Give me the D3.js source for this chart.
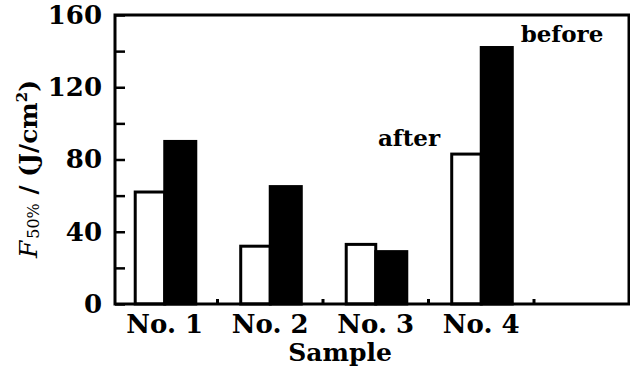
<!DOCTYPE html>
<html>
<head>
<meta charset="utf-8">
<script src="https://cdn.jsdelivr.net/npm/d3@7"></script>
<style>
  body { margin: 0; background: #fff; }
  text { font-family: "DejaVu Serif", serif; font-weight: bold; fill: #000; }
</style>
</head>
<body>
<svg width="630" height="372"></svg>
<script>
// data
var samples = ["No. 1", "No. 2", "No. 3", "No. 4"];
var series = ["after", "before"];
var afterValues = [62, 32, 33, 83];
var beforeValues = [90, 65, 29, 142];
var yTicks = [0, 20, 40, 60, 80, 100, 120, 140, 160];

var svg = d3.select("svg");

// plot frame edges (not "top": that name is taken by window.top)
var pLeft = 115, pRight = 629, pTop = 15, pBottom = 304;

var y = d3.scaleLinear().domain([0, 160]).range([pBottom, pTop]);

// outer band per sample, inner band per series
var x0 = d3.scaleBand().domain(samples).range([112, 534]);
var x1 = d3.scaleBand().domain(series).range([0, x0.bandwidth()]).paddingOuter(0.7);

var rows = samples.map(function(s, i) {
  return { sample: s, values: [
    { key: "after", value: afterValues[i] },
    { key: "before", value: beforeValues[i] }
  ]};
});

// bars
var g = svg.append("g");
g.selectAll("g.grp")
  .data(rows)
  .enter().append("g")
    .attr("class", "grp")
    .attr("transform", function(d) { return "translate(" + x0(d.sample) + ",0)"; })
  .selectAll("rect")
  .data(function(d) { return d.values; })
  .enter().append("rect")
    .attr("x", function(d) { return x1(d.key) + (d.key == "after" ? 1.5 : 0); })
    .attr("y", function(d) { return y(d.value); })
    .attr("width", function(d) { return x1.bandwidth() - (d.key == "after" ? 1.5 : 0); })
    .attr("height", function(d) { return pBottom - y(d.value); })
    .attr("fill", function(d) { return d.key == "after" ? "#fff" : "#000"; })
    .attr("stroke", "#000")
    .attr("stroke-width", 3);

// frame
svg.append("rect")
  .attr("x", pLeft).attr("y", pTop)
  .attr("width", pRight - pLeft).attr("height", pBottom - pTop)
  .attr("fill", "none").attr("stroke", "#000").attr("stroke-width", 3);

// y axis with inward ticks, labels every 40
var yAxis = d3.axisLeft(y)
  .tickValues(yTicks)
  .tickSize(-10)
  .tickPadding(13)
  .tickFormat(function(d) { return d % 40 == 0 ? d : ""; });

var ya = svg.append("g")
  .attr("transform", "translate(" + pLeft + ",0)")
  .call(yAxis);
ya.select(".domain").remove();
ya.selectAll(".tick line").attr("stroke", "#000").attr("stroke-width", 2.5);
ya.selectAll(".tick text")
  .attr("font-family", "DejaVu Serif")
  .attr("font-size", 26)
  .attr("font-weight", "bold");

// x axis: category labels plus small inward ticks at band edges
var xAxis = d3.axisBottom(x0).tickSize(0).tickPadding(11);
var xa = svg.append("g")
  .attr("transform", "translate(0," + pBottom + ")")
  .call(xAxis);
xa.select(".domain").remove();
xa.selectAll(".tick text")
  .attr("font-family", "DejaVu Serif")
  .attr("font-size", 26)
  .attr("font-weight", "bold");

svg.append("g").selectAll("line")
  .data(samples)
  .enter().append("line")
    .attr("x1", function(d) { return x0(d) + x0.step(); })
    .attr("x2", function(d) { return x0(d) + x0.step(); })
    .attr("y1", pBottom)
    .attr("y2", pBottom - 5)
    .attr("stroke", "#000")
    .attr("stroke-width", 3);

// axis titles
svg.append("text")
  .attr("x", 340).attr("y", 361)
  .attr("text-anchor", "middle")
  .attr("font-size", 25)
  .text("Sample");

var yl = svg.append("text")
  .attr("transform", "translate(37,169) rotate(-90)")
  .attr("text-anchor", "middle")
  .attr("font-size", 25);
yl.append("tspan").attr("font-style", "italic").attr("font-weight", "normal").text("F");
yl.append("tspan").attr("font-size", 16).attr("font-weight", "normal").attr("dx", 2).attr("dy", 2).text("50%");
yl.append("tspan").attr("dy", -2).text(" / (J/cm");
yl.append("tspan").attr("font-size", 15).attr("dy", -10).text("2");
yl.append("tspan").attr("dy", 10).text(")");

// series labels
svg.append("text")
  .attr("x", 409).attr("y", 146)
  .attr("text-anchor", "middle")
  .attr("font-size", 23)
  .text("after");

svg.append("text")
  .attr("x", 562).attr("y", 42)
  .attr("text-anchor", "middle")
  .attr("font-size", 23)
  .text("before");
</script>
</body>
</html>
